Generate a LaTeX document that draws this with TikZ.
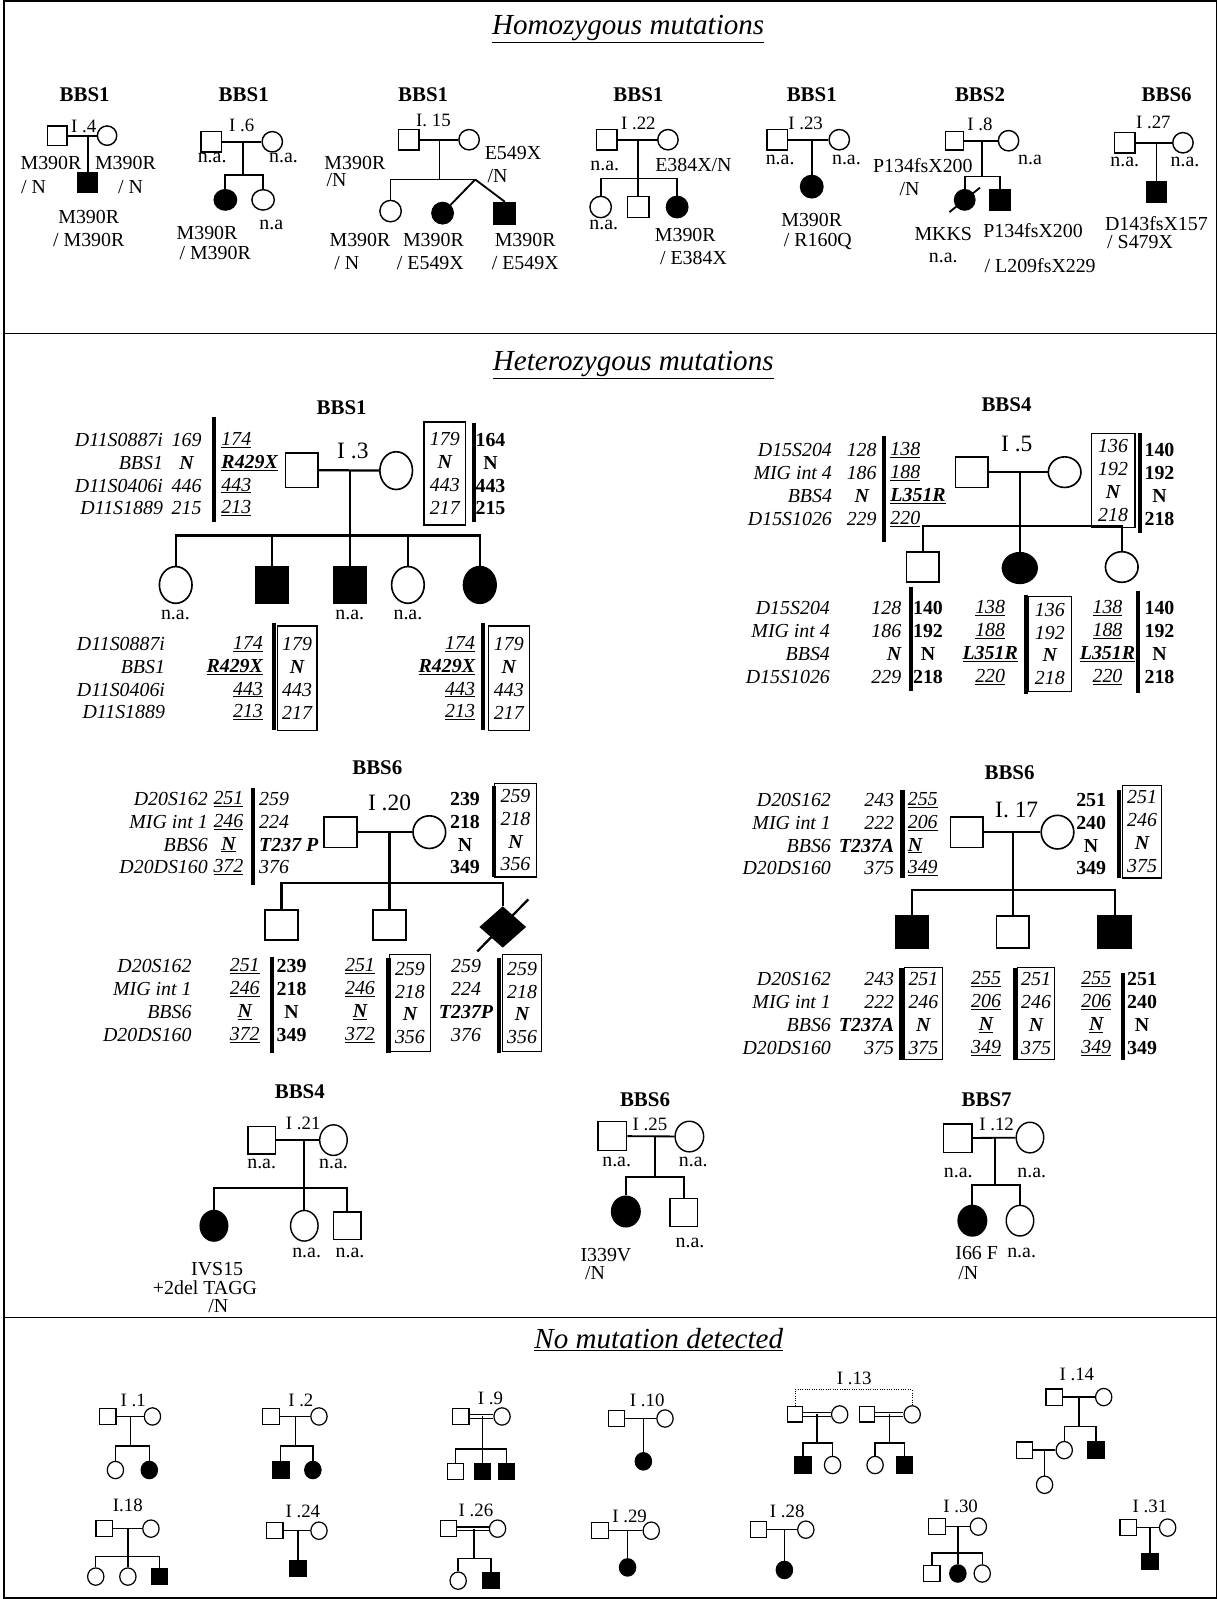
\documentclass[tikz,border=0pt]{standalone}
\usepackage{fontspec}
\setmainfont{Liberation Serif}
\usetikzlibrary{shapes.geometric, positioning, calc}

\begin{document}
\begin{tikzpicture}[
  x=1pt, y=-1pt,
  ped/.style={line width=1.8pt},
  hped/.style={line width=2.2pt},
  sped/.style={line width=1.4pt},
  male/.style={rectangle, draw, line width=1.4pt, minimum size=19pt, inner sep=0pt},
  female/.style={ellipse, draw, line width=1.4pt, minimum width=19pt, minimum height=19pt, inner sep=0pt},
  aff/.style={fill=black},
  bigmale/.style={male, minimum width=32pt, minimum height=31pt, line width=1.6pt},
  bigfemale/.style={female, minimum width=32pt, minimum height=33pt, line width=1.6pt},
  mmale/.style={male, minimum width=27pt, minimum height=27pt},
  mfemale/.style={female, minimum width=27pt, minimum height=30pt},
  smale/.style={male, minimum size=16pt, line width=1.2pt},
  sfemale/.style={female, minimum width=16pt, minimum height=17pt, line width=1.2pt},
  lbl/.style={font=\fontsize{19.5}{22}\selectfont, inner sep=0pt},
  gen/.style={font=\fontsize{18.5}{20}\selectfont, inner sep=0pt},
  biggen/.style={font=\fontsize{23}{24}\selectfont, inner sep=0pt},
  head/.style={font=\bfseries\fontsize{20.5}{22}\selectfont, inner sep=0pt},
  title/.style={font=\itshape\fontsize{28.5}{30}\selectfont, inner sep=0pt},
  mk/.style={font=\itshape\fontsize{19.5}{22.4}\selectfont, align=center, inner sep=0pt},
  mkb/.style={font=\bfseries\fontsize{19.5}{22.4}\selectfont, align=center, inner sep=0pt},
  hapbox/.style={mk, draw, line width=1.3pt},
  bar/.style={line width=4pt},
]
\useasboundingbox (0,0) rectangle (1194,1568);

% frame and sections
\draw[line width=1.5pt] (4,1) rectangle (1193,1567);
\draw[line width=1.5pt] (4,327) -- (1193,327);
\draw[line width=1.5pt] (4,1292) -- (1193,1292);
\node[title] (homo) at (616,28) {\underline{Homozygous mutations}};
\node[title] (hetero) at (621,358) {\underline{Heterozygous mutations}};
\node[title] (nomut) at (646,1314) {\underline{No mutation detected}};

% ---------------- homozygous ----------------
% I.4
\node[head] (h4) at (83,93) {BBS1};
\node[gen] (g4) at (82,123.5) {I .4};
\node[male] (m4) at (56,133) {};
\node[female] (f4) at (105,133) {};
\coordinate (j4) at (86,133);
\node[male, aff] (c4) at (86,179) {};
\draw[ped] (m4) -- (f4);
\draw[ped] (j4) -- (c4);
\node[lbl] (l4a) at (50,160) {M390R};
\node[lbl] (l4b) at (33,183) {/ N};
\node[lbl] (l4c) at (123,160) {M390R};
\node[lbl] (l4d) at (128,183) {/ N};
\node[lbl] (l4e) at (87,213) {M390R};
\node[lbl] (l4f) at (87,235) {/ M390R};

% I.6
\node[head] (h6) at (239,93) {BBS1};
\node[gen] (g6) at (237,122.5) {I .6};
\node[male, minimum size=20pt] (m6) at (207,139) {};
\node[female, minimum size=20pt] (f6) at (267,139) {};
\coordinate (j6) at (238,139);
\coordinate (s6) at (238,172);
\node[female, aff, minimum width=22pt, minimum height=20pt] (c6a) at (221,196) {};
\node[female, minimum width=22pt, minimum height=20pt] (c6b) at (258,196) {};
\draw[ped] (m6) -- (f6);
\draw[ped] (j6) -- (s6);
\draw[ped] (c6a) |- (s6) -| (c6b);
\node[lbl] (l6a) at (208,155) {n.a.};
\node[lbl] (l6b) at (278,155) {n.a.};
\node[lbl] (l6c) at (203,228) {M390R};
\node[lbl] (l6d) at (211,248) {/ M390R};
\node[lbl] (l6e) at (266,221) {n.a};

% I.15
\node[head] (h15) at (415,93) {BBS1};
\node[gen] (g15) at (425,118.5) {I. 15};
\node[male, minimum size=20pt] (m15) at (401,137) {};
\node[female, minimum size=20pt] (f15) at (460,137) {};
\coordinate (j15) at (431,137);
\coordinate (t15) at (466,176);
\node[female, minimum size=21pt] (c15a) at (383,207) {};
\node[female, aff, minimum size=21pt] (c15b) at (434,209) {};
\node[male, aff, minimum size=21pt] (c15c) at (495,209) {};
\draw[ped] (m15) -- (f15);
\draw[ped] (j15) -- (j15 |- t15);
\draw[ped] (c15a) |- (t15);
\draw[ped] (t15) -- (c15b);
\draw[ped] (t15) -- (c15c.north);
\node[lbl] (l15a) at (348,160) {M390R};
\node[lbl] (l15b) at (330,177) {/N};
\node[lbl] (l15c) at (503,150) {E549X};
\node[lbl] (l15d) at (488,173) {/N};
\node[lbl] (l15e) at (353,235) {M390R};
\node[lbl] (l15f) at (340,258) {/ N};
\node[lbl] (l15g) at (425,235) {M390R};
\node[lbl] (l15h) at (422,258) {/ E549X};
\node[lbl] (l15i) at (515,235) {M390R};
\node[lbl] (l15j) at (515,258) {/ E549X};

% I.22
\node[head] (h22) at (626,93) {BBS1};
\node[gen] (g22) at (626,121) {I .22};
\node[male, minimum size=20pt] (m22) at (595,137) {};
\node[female, minimum size=20pt] (f22) at (655,137) {};
\coordinate (j22) at (626,137);
\coordinate (s22) at (626,175);
\node[female, minimum size=21pt] (c22a) at (589,203) {};
\node[male, minimum size=21pt] (c22b) at (626,203) {};
\node[female, aff, minimum size=21pt] (c22c) at (664,203) {};
\draw[ped] (m22) -- (f22);
\draw[ped] (j22) -- (c22b);
\draw[ped] (c22a) |- (s22) -| (c22c);
\node[lbl] (l22a) at (593,163) {n.a.};
\node[lbl] (l22b) at (680,162) {E384X/N};
\node[lbl] (l22c) at (592,221) {n.a.};
\node[lbl] (l22d) at (672,230) {M390R};
\node[lbl] (l22e) at (680,253) {/ E384X};

% I.23
\node[head] (h23) at (796,93) {BBS1};
\node[gen] (g23) at (790,121) {I .23};
\node[male, minimum size=20pt] (m23) at (762,137) {};
\node[female, minimum size=20pt] (f23) at (823,137) {};
\coordinate (j23) at (796,137);
\node[female, aff, minimum size=22pt] (c23) at (796,183) {};
\draw[ped] (m23) -- (f23);
\draw[ped] (j23) -- (c23);
\node[lbl] (l23a) at (765,157) {n.a.};
\node[lbl] (l23b) at (830,157) {n.a.};
\node[lbl] (l23c) at (796,216) {M390R};
\node[lbl] (l23d) at (802,237) {/ R160Q};

% I.8
\node[head] (h8) at (961,93) {BBS2};
\node[gen] (g8) at (961,121.5) {I .8};
\node[male, minimum size=18pt] (m8) at (936,138) {};
\node[female, minimum size=20pt] (f8) at (989,138) {};
\coordinate (j8) at (963,138);
\coordinate (s8) at (963,173);
\node[female, aff, minimum size=20pt] (c8a) at (946,196) {};
\node[male, aff, minimum size=20pt] (c8b) at (981,196) {};
\draw[ped] (m8) -- (f8);
\draw[ped] (j8) -- (s8);
\draw[ped] (c8a) |- (s8) -| (c8b);
\draw[ped] ([shift={(-15,12)}]c8a.center) -- ([shift={(15,-12)}]c8a.center);
\node[lbl] (l8a) at (905,162) {P134fsX200};
\node[lbl] (l8b) at (892,185) {/N};
\node[lbl] (l8c) at (1010,157) {n.a};
\node[lbl] (l8d) at (925,229) {MKKS};
\node[lbl] (l8e) at (925,253) {n.a.};
\node[lbl] (l8f) at (1013,226) {P134fsX200};
\node[lbl] (l8g) at (1020,260) {/ L209fsX229};

% I.27
\node[head] (h27) at (1144,93) {BBS6};
\node[gen] (g27) at (1131,120) {I .27};
\node[male, minimum size=20pt] (m27) at (1103,140) {};
\node[female, minimum size=20pt] (f27) at (1160,140) {};
\coordinate (j27) at (1134,140);
\node[male, aff, minimum size=20pt] (c27) at (1134,188) {};
\draw[ped] (m27) -- (f27);
\draw[ped] (j27) -- (c27);
\node[lbl] (l27a) at (1103,159) {n.a.};
\node[lbl] (l27b) at (1162,159) {n.a.};
\node[lbl] (l27c) at (1134,219) {D143fsX157};
\node[lbl] (l27d) at (1118,237) {/ S479X};

% ---------------- heterozygous ----------------
% BBS1, I.3
\node[head] (h3) at (335,400) {BBS1};
\node[biggen] (g3) at (346,442) {I .3};
\node[bigmale, minimum height=34pt] (m3) at (296,461) {};
\node[bigfemale, minimum height=37pt] (f3) at (388.5,461.5) {};
\coordinate (j3) at (343,461);
\coordinate (s3) at (343,525);
\node[bigfemale, minimum height=36pt] (c3a) at (172.3,573.6) {};
\node[bigmale, aff, minimum height=35pt] (c3b) at (267,573.6) {};
\node[bigmale, aff, minimum height=35pt] (c3c) at (343,573.6) {};
\node[bigfemale, minimum height=36pt] (c3d) at (400,573.6) {};
\node[bigfemale, aff, minimum height=36pt] (c3e) at (470.5,573.6) {};
\draw[hped] (m3) -- (f3);
\draw[hped] (j3) -- (c3c);
\draw[hped] (c3a) |- (s3) -| (c3e);
\draw[hped] (c3b) -- (c3b |- s3);
\draw[hped] (c3d) -- (c3d |- s3);
\node[lbl] (l3a) at (172,603) {n.a.};
\node[lbl] (l3b) at (343,603) {n.a.};
\node[lbl] (l3c) at (400,603) {n.a.};
\node[mk, align=right, anchor=east] (n3) at (160,465) {D11S0887i\\BBS1\\D11S0406i\\D11S1889};
\node[mk] (a3) at (183,465) {169\\\textbf{N}\\446\\215};
\draw[bar] (210,409) -- (210,512);
\node[mk, align=left, anchor=west] (b3) at (217,465) {\underline{174}\\\underline{\textbf{R429X}}\\\underline{443}\\\underline{213}};
\node[hapbox, minimum width=41pt, minimum height=101pt] (x3) at (436.2,464.2) {179\\\textbf{N}\\443\\217};
\draw[bar] (464.7,415) -- (464.7,512);
\node[mkb] (y3) at (481,465) {164\\N\\443\\215};
\node[mk, align=right, anchor=east] (n3b) at (162,665) {D11S0887i\\BBS1\\D11S0406i\\D11S1889};
\node[mk, align=right, anchor=east] (b3b) at (258,665) {\underline{174}\\\underline{\textbf{R429X}}\\\underline{443}\\\underline{213}};
\draw[bar] (268.6,611) -- (268.6,716);
\node[hapbox, minimum width=39pt, minimum height=102pt] (x3b) at (291.3,665) {179\\\textbf{N}\\443\\217};
\node[mk, align=right, anchor=east] (b3e) at (466,665) {\underline{174}\\\underline{\textbf{R429X}}\\\underline{443}\\\underline{213}};
\draw[bar] (473.5,611) -- (473.5,716);
\node[hapbox, minimum width=40pt, minimum height=102pt] (x3e) at (499,665) {179\\\textbf{N}\\443\\217};

% BBS4, I.5
\node[head] (h5) at (987,397) {BBS4};
\node[biggen] (g5) at (997,435) {I .5};
\node[bigmale, minimum height=30pt] (m5) at (953,463) {};
\node[bigfemale, minimum height=30pt] (f5) at (1044,463) {};
\coordinate (j5) at (1000,463);
\coordinate (s5) at (1000,516);
\node[bigmale, minimum height=30pt] (c5a) at (905,556) {};
\node[bigfemale, aff, minimum width=34pt, minimum height=30pt] (c5b) at (1000,557) {};
\node[bigfemale, minimum height=30pt] (c5c) at (1100,556) {};
\draw[hped] (m5) -- (f5);
\draw[hped] (j5) -- (c5b);
\draw[hped] (c5a) |- (s5) -| (c5c);
\node[mk, align=right, anchor=east] (n5) at (816,475) {D15S204\\MIG int 4\\BBS4\\D15S1026};
\node[mk] (a5) at (845,475) {128\\186\\\textbf{N}\\229};
\draw[bar] (867,428) -- (867,531);
\node[mk, align=left, anchor=west] (b5) at (873,475) {\underline{138}\\\underline{188}\\\underline{\textbf{L351R}}\\\underline{220}};
\node[hapbox, minimum width=43pt, minimum height=92pt] (x5) at (1091.5,471) {136\\192\\\textbf{N}\\218};
\draw[bar] (1118,425) -- (1118,523);
\node[mkb] (y5) at (1137,475) {140\\192\\N\\218};
\node[mk, align=right, anchor=east] (n5b) at (814,630) {D15S204\\MIG int 4\\BBS4\\D15S1026};
\node[mk, align=right, anchor=east] (a5a) at (884,630) {128\\186\\\textbf{N}\\229};
\draw[bar] (893,576) -- (893,678);
\node[mkb] (y5a) at (910,630) {140\\192\\N\\218};
\node[mk] (b5b) at (971,630) {\underline{138}\\\underline{188}\\\underline{\textbf{L351R}}\\\underline{220}};
\draw[bar] (1006,583) -- (1006,681);
\node[hapbox, minimum width=43pt, minimum height=93pt] (x5b) at (1029.5,631.5) {136\\192\\\textbf{N}\\218};
\node[mk] (b5c) at (1086,630) {\underline{138}\\\underline{188}\\\underline{\textbf{L351R}}\\\underline{220}};
\draw[bar] (1116,580) -- (1116,680);
\node[mkb] (y5c) at (1137,630) {140\\192\\N\\218};

% BBS6, I.20
\node[head] (h20) at (370,753) {BBS6};
\node[biggen] (g20) at (382,787.5) {I .20};
\node[bigmale, minimum height=30pt] (m20) at (334,816) {};
\node[bigfemale, minimum height=32pt] (f20) at (421,816) {};
\coordinate (j20) at (382,816);
\coordinate (s20) at (382,866);
\node[bigmale, minimum height=29pt] (c20a) at (276,907) {};
\node[bigmale, minimum height=29pt] (c20b) at (382,907) {};
\node[diamond, draw, aff, minimum width=44pt, minimum height=39pt, inner sep=0pt, line width=1.6pt] (c20c) at (493,909) {};
\draw[hped] (m20) -- (f20);
\draw[hped] (j20) -- (c20b);
\draw[hped] (c20a) |- (s20) -| (c20c);
\draw[hped] ([shift={(-25,24)}]c20c.center) -- ([shift={(25,-27)}]c20c.center);
\node[mk, align=right, anchor=east] (n20) at (204,817) {D20S162\\MIG int 1\\BBS6\\D20DS160};
\node[mk] (a20) at (224,817) {\underline{251}\\\underline{246}\\\underline{\textbf{N}}\\\underline{372}};
\draw[bar] (248,773) -- (248,868);
\node[mk, align=left, anchor=west] (b20) at (254,817) {259\\224\\\textbf{T237 P}\\376};
\node[mkb] (y20) at (456,817) {239\\218\\N\\349};
\draw[bar] (484,771) -- (484,860);
\node[hapbox, minimum width=41pt, minimum height=92pt] (x20) at (505.5,814) {259\\218\\\textbf{N}\\356};
\node[mk, align=right, anchor=east] (n20b) at (188,981) {D20S162\\MIG int 1\\BBS6\\D20DS160};
\node[mk] (a20a) at (240,981) {\underline{251}\\\underline{246}\\\underline{\textbf{N}}\\\underline{372}};
\draw[bar] (267,938) -- (267,1033);
\node[mkb] (y20a) at (286,981) {239\\218\\N\\349};
\node[mk] (a20b) at (353,981) {\underline{251}\\\underline{246}\\\underline{\textbf{N}}\\\underline{372}};
\draw[bar] (381,939) -- (381,1033);
\node[hapbox, minimum width=40pt, minimum height=95pt] (x20b) at (402,983.5) {259\\218\\\textbf{N}\\356};
\node[mk] (a20c) at (457,981) {259\\224\\\textbf{T237P}\\376};
\draw[bar] (489,939) -- (489,1033);
\node[hapbox, minimum width=38pt, minimum height=95pt] (x20c) at (512,983.5) {259\\218\\\textbf{N}\\356};

% BBS6, I.17
\node[head] (h17) at (990,758) {BBS6};
\node[biggen] (g17) at (997,794) {I. 17};
\node[bigmale, minimum height=30pt] (m17) at (948,816) {};
\node[bigfemale, minimum height=33pt] (f17) at (1037,816) {};
\coordinate (j17) at (993,816);
\coordinate (s17) at (993,873);
\node[bigmale, aff] (c17a) at (894,914) {};
\node[bigmale] (c17b) at (993,914) {};
\node[bigmale, aff] (c17c) at (1093,914) {};
\draw[hped] (m17) -- (f17);
\draw[hped] (j17) -- (c17b);
\draw[hped] (c17a) |- (s17) -| (c17c);
\node[mk, align=right, anchor=east] (n17) at (815,818) {D20S162\\MIG int 1\\BBS6\\D20DS160};
\node[mk, align=right, anchor=east] (a17) at (877,818) {243\\222\\\textbf{T237A}\\375};
\draw[bar] (885,775) -- (885,861);
\node[mk, align=left, anchor=west] (b17) at (890,818) {\underline{255}\\\underline{206}\\\underline{\textbf{N}}\\\underline{349}};
\node[mkb] (y17) at (1070,818) {251\\240\\N\\349};
\draw[bar] (1097,775) -- (1097,861);
\node[hapbox, minimum width=38pt, minimum height=91pt] (x17) at (1120,815.5) {251\\246\\\textbf{N}\\375};
\node[mk, align=right, anchor=east] (n17b) at (815,994) {D20S162\\MIG int 1\\BBS6\\D20DS160};
\node[mk, align=right, anchor=east] (a17a) at (877,994) {243\\222\\\textbf{T237A}\\375};
\draw[bar] (884,949) -- (884,1039);
\node[hapbox, minimum width=37pt, minimum height=90pt] (x17a) at (905.5,994) {251\\246\\\textbf{N}\\375};
\node[mk] (b17b) at (967,994) {\underline{255}\\\underline{206}\\\underline{\textbf{N}}\\\underline{349}};
\draw[bar] (995,949) -- (995,1039);
\node[hapbox, minimum width=36pt, minimum height=90pt] (x17b) at (1016,994) {251\\246\\\textbf{N}\\375};
\node[mk] (b17c) at (1075,994) {\underline{255}\\\underline{206}\\\underline{\textbf{N}}\\\underline{349}};
\draw[bar] (1101,954) -- (1101,1039);
\node[mkb] (y17c) at (1120,994) {251\\240\\N\\349};

% BBS4, I.21
\node[head] (h21) at (294,1070.5) {BBS4};
\node[gen] (g21) at (297.4,1101.5) {I .21};
\node[mmale] (m21) at (256.6,1118) {};
\node[mfemale] (f21) at (327,1118) {};
\coordinate (j21) at (298.4,1118);
\coordinate (s21) at (298.4,1165);
\node[mfemale, aff] (c21a) at (209.8,1202) {};
\node[mfemale] (c21b) at (298.4,1202) {};
\node[mmale] (c21c) at (340.6,1202) {};
\draw[ped] (m21) -- (f21);
\draw[ped] (j21) -- (c21b);
\draw[ped] (c21a) |- (s21) -| (c21c);
\node[lbl] (l21a) at (256.6,1141) {n.a.};
\node[lbl] (l21b) at (327,1141) {n.a.};
\node[lbl] (l21c) at (300.7,1229) {n.a.};
\node[lbl] (l21d) at (343.2,1229) {n.a.};
\node[lbl] (l21e) at (213,1244) {IVS15};
\node[lbl] (l21f) at (201,1263) {+2del TAGG};
\node[lbl] (l21g) at (214,1281) {/N};

% BBS6, I.25
\node[head] (h25) at (632.5,1078.6) {BBS6};
\node[gen] (g25) at (637.4,1103) {I .25};
\node[mmale, minimum size=28pt] (m25) at (600.5,1114) {};
\node[mfemale, minimum width=28pt] (f25) at (676,1114.5) {};
\coordinate (j25) at (642.3,1114);
\coordinate (s25) at (642.3,1154);
\node[mfemale, aff, minimum width=28pt] (c25a) at (613.7,1188) {};
\node[mmale] (c25b) at (670.5,1189) {};
\draw[ped] (m25) -- (f25);
\draw[ped] (j25) -- (s25);
\draw[ped] (c25a) |- (s25) -| (c25b);
\node[lbl] (l25a) at (604.7,1139) {n.a.};
\node[lbl] (l25b) at (679.9,1139) {n.a.};
\node[lbl] (l25c) at (676.6,1219) {n.a.};
\node[lbl] (l25d) at (594.2,1230.6) {I339V};
\node[lbl] (l25e) at (583.5,1248.6) {/N};

% BBS7, I.12
\node[head] (h12) at (967.5,1078.6) {BBS7};
\node[gen] (g12) at (977.3,1103) {I .12};
\node[mmale, minimum size=28pt] (m12) at (939,1116) {};
\node[mfemale] (f12) at (1010,1115.5) {};
\coordinate (j12) at (975.7,1116);
\coordinate (s12) at (975.7,1162);
\node[mfemale, aff, minimum width=28pt] (c12a) at (953.5,1197) {};
\node[mfemale] (c12b) at (1000.2,1197) {};
\draw[ped] (m12) -- (f12);
\draw[ped] (j12) -- (s12);
\draw[ped] (c12a) |- (s12) -| (c12b);
\node[lbl] (l12a) at (939.7,1150.6) {n.a.};
\node[lbl] (l12b) at (1011.7,1150.6) {n.a.};
\node[lbl] (l12c) at (957.7,1229) {I66 F};
\node[lbl] (l12d) at (1001.8,1229) {n.a.};
\node[lbl] (l12e) at (949.5,1248.6) {/N};

% ---------------- no mutation detected ----------------
% I.1
\node[gen] (g1) at (130.6,1373) {I .1};
\node[smale] (m1) at (105.8,1389) {};
\node[sfemale] (f1) at (149.5,1389) {};
\coordinate (j1) at (128.2,1389);
\coordinate (s1) at (128.2,1418);
\node[sfemale] (c1a) at (113.2,1441.5) {};
\node[sfemale, aff] (c1b) at (146.4,1441.5) {};
\draw[sped] (m1) -- (f1);
\draw[sped] (j1) -- (s1);
\draw[sped] (c1a) |- (s1) -| (c1b);

% I.2
\node[gen] (g2) at (295,1373) {I .2};
\node[smale] (m2) at (265.7,1389) {};
\node[sfemale] (f2) at (312.8,1389) {};
\coordinate (j2) at (290,1389);
\coordinate (s2) at (290,1418);
\node[smale, aff] (c2a) at (275.3,1441.5) {};
\node[sfemale, aff] (c2b) at (306.8,1441.5) {};
\draw[sped] (m2) -- (f2);
\draw[sped] (j2) -- (s2);
\draw[sped] (c2a) |- (s2) -| (c2b);

% I.9
\node[gen] (g9) at (480.9,1371) {I .9};
\node[smale] (m9) at (451.8,1389) {};
\node[sfemale] (f9) at (492.3,1389) {};
\coordinate (j9) at (473,1389);
\coordinate (s9) at (473,1421);
\node[smale] (c9a) at (446.8,1443) {};
\node[smale, aff] (c9b) at (473,1443) {};
\node[smale, aff] (c9c) at (496.6,1443) {};
\draw[sped] ([yshift=1.8pt]m9.east) -- ([yshift=1.8pt]f9.west);
\draw[sped] ([yshift=-1.8pt]m9.east) -- ([yshift=-1.8pt]f9.west);
\draw[sped] (j9) -- (c9b);
\draw[sped] (c9a) |- (s9) -| (c9c);

% I.10
\node[gen] (g10) at (634.7,1373) {I .10};
\node[smale] (m10) at (604.6,1391) {};
\node[sfemale] (f10) at (652.1,1391) {};
\coordinate (j10) at (630.9,1391);
\node[sfemale, aff] (c10) at (630.9,1433) {};
\draw[sped] (m10) -- (f10);
\draw[sped] (j10) -- (c10);

% I.13
\node[gen] (g13) at (837.6,1351.6) {I .13};
\node[smale, minimum size=15pt] (m13a) at (779.7,1387) {};
\node[sfemale] (f13a) at (823.4,1387) {};
\coordinate (j13a) at (801,1387);
\coordinate (s13a) at (801,1415);
\node[smale, aff] (c13a) at (787.4,1436.6) {};
\node[sfemale] (c13b) at (816.4,1436.6) {};
\node[smale, minimum size=15pt] (m13b) at (850.4,1387) {};
\node[sfemale] (f13b) at (894.5,1387) {};
\coordinate (j13b) at (872.4,1387);
\coordinate (s13b) at (872.4,1415);
\node[sfemale] (c13c) at (858.1,1436.6) {};
\node[smale, aff] (c13d) at (887,1436.6) {};
\draw[line width=1pt, dash pattern=on 1pt off 1.3pt] (m13a.north) -- ++(0,-16) -| (f13b.north);
\draw[sped] ([yshift=1.8pt]m13a.east) -- ([yshift=1.8pt]f13a.west);
\draw[sped] ([yshift=-1.8pt]m13a.east) -- ([yshift=-1.8pt]f13a.west);
\draw[sped] (j13a) -- (s13a);
\draw[sped] (c13a) |- (s13a) -| (c13b);
\draw[sped] ([yshift=1.8pt]m13b.east) -- ([yshift=1.8pt]f13b.west);
\draw[sped] ([yshift=-1.8pt]m13b.east) -- ([yshift=-1.8pt]f13b.west);
\draw[sped] (j13b) -- (s13b);
\draw[sped] (c13c) |- (s13b) -| (c13d);

% I.14
\node[gen] (g14) at (1056,1348) {I .14};
\node[smale] (m14) at (1033.6,1370) {};
\node[sfemale] (f14) at (1082.3,1370) {};
\coordinate (j14) at (1058,1370);
\coordinate (s14) at (1058,1399);
\node[sfemale] (c14a) at (1043.6,1422) {};
\node[smale, aff] (c14b) at (1074.6,1422) {};
\node[smale] (p14) at (1004.6,1422) {};
\coordinate (k14) at (1024.3,1422);
\node[sfemale] (c14c) at (1024.3,1456) {};
\draw[sped] (m14) -- (f14);
\draw[sped] (j14) -- (s14);
\draw[sped] (c14a) |- (s14) -| (c14b);
\draw[sped] (p14) -- (c14a);
\draw[sped] (k14) -- (c14c);

% I.18
\node[gen] (g18) at (125.4,1476) {I.18};
\node[smale] (m18) at (102.2,1499) {};
\node[sfemale] (f18) at (148,1499) {};
\coordinate (j18) at (125.4,1499);
\coordinate (s18) at (125.4,1526.5);
\node[sfemale] (c18a) at (93.9,1546) {};
\node[sfemale] (c18b) at (125.4,1546) {};
\node[smale, aff] (c18c) at (156.2,1546) {};
\draw[sped] (m18) -- (f18);
\draw[sped] (j18) -- (c18b);
\draw[sped] (c18a) |- (s18) -| (c18c);

% I.24
\node[gen] (g24) at (297,1482) {I .24};
\node[smale] (m24) at (269.6,1501) {};
\node[sfemale] (f24) at (312.8,1501) {};
\coordinate (j24) at (292.4,1501);
\node[smale, aff] (c24) at (292.4,1538) {};
\draw[sped] (m24) -- (f24);
\draw[sped] (j24) -- (c24);

% I.26
\node[gen] (g26) at (466.8,1481) {I .26};
\node[smale] (m26) at (439.9,1499) {};
\node[sfemale] (f26) at (487.9,1499) {};
\coordinate (j26) at (465,1499);
\coordinate (s26) at (465,1528);
\node[sfemale] (c26a) at (449.3,1550) {};
\node[smale, aff] (c26b) at (481.5,1550) {};
\draw[sped] ([yshift=1.8pt]m26.east) -- ([yshift=1.8pt]f26.west);
\draw[sped] ([yshift=-1.8pt]m26.east) -- ([yshift=-1.8pt]f26.west);
\draw[sped] (j26) -- (s26);
\draw[sped] (c26a) |- (s26) -| (c26b);

% I.29
\node[gen] (g29) at (617.4,1487) {I .29};
\node[smale] (m29) at (588.4,1501) {};
\node[sfemale] (f29) at (638.6,1501) {};
\coordinate (j29) at (615.4,1501);
\node[sfemale, aff] (c29) at (615.4,1537) {};
\draw[sped] (m29) -- (f29);
\draw[sped] (j29) -- (c29);

% I.28
\node[gen] (g28) at (771.9,1482) {I .28};
\node[smale] (m28) at (743.8,1500) {};
\node[sfemale] (f28) at (790.2,1500) {};
\coordinate (j28) at (769.2,1500);
\node[sfemale, aff] (c28) at (769.2,1539.5) {};
\draw[sped] (m28) -- (f28);
\draw[sped] (j28) -- (c28);

% I.30
\node[gen] (g30) at (942,1477.5) {I .30};
\node[smale] (m30) at (918.8,1497) {};
\node[sfemale] (f30) at (959.4,1497) {};
\coordinate (j30) at (939.3,1497);
\coordinate (s30) at (939.3,1523);
\node[smale] (c30a) at (913.8,1543) {};
\node[sfemale, aff] (c30b) at (939.3,1543) {};
\node[sfemale] (c30c) at (963.2,1543) {};
\draw[sped] (m30) -- (f30);
\draw[sped] (j30) -- (c30b);
\draw[sped] (c30a) |- (s30) -| (c30c);

% I.31
\node[gen] (g31) at (1127.6,1477.5) {I .31};
\node[smale] (m31) at (1106.3,1498) {};
\node[sfemale] (f31) at (1145,1498) {};
\coordinate (j31) at (1127.6,1498);
\node[smale, aff] (c31) at (1127.6,1531) {};
\draw[sped] (m31) -- (f31);
\draw[sped] (j31) -- (c31);
\end{tikzpicture}
\end{document}
